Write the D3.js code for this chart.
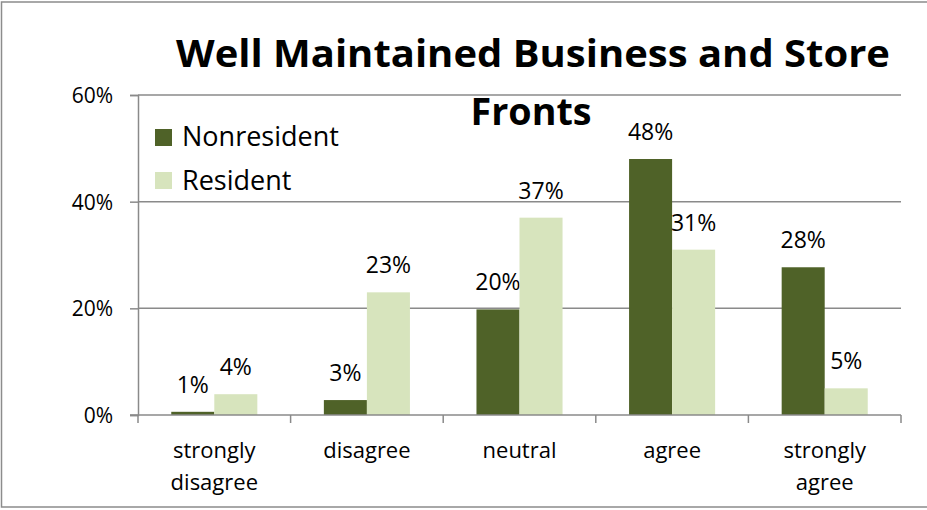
<!DOCTYPE html>
<html>
<head>
<meta charset="utf-8">
<script src="https://cdn.jsdelivr.net/npm/d3@7"></script>
<style>
  html, body { margin: 0; padding: 0; background: #fff; }
  svg { display: block; font-family: "Open Sans", "Noto Sans", sans-serif; }
</style>
</head>
<body>
<svg id="chart" width="927" height="510"></svg>
<script>
const categories = [["strongly", "disagree"], ["disagree"], ["neutral"], ["agree"], ["strongly", "agree"]];
const seriesNames = ["Nonresident", "Resident"];
const nonresident = [0.6, 2.8, 19.8, 48, 27.7];
const resident = [3.9, 23, 37, 31, 5];
const labelsNonresident = ["1%", "3%", "20%", "48%", "28%"];
const labelsResident = ["4%", "23%", "37%", "31%", "5%"];
const yTicks = [0, 20, 40, 60];
const colors = ["#4F6228", "#D7E4BD"];
const titleLines = ["Well Maintained Business and Store", "Fronts"];

const svg = d3.select("#chart");
const plotLeft = 138, plotRight = 901, plotTop = 95, plotBottom = 415;
const catKeys = categories.map(c => c.join(" "));

// outer border
svg.append("path")
  .attr("d", "M930,2 H1.5 V507 H930")
  .attr("fill", "none").attr("stroke", "#8c8c8c").attr("stroke-width", 1.5);

const y = d3.scaleLinear().domain([0, 60]).range([plotBottom, plotTop]);
const x0 = d3.scaleBand().domain(catKeys).range([plotLeft, plotRight]).paddingInner(0.436).paddingOuter(0.218);
const x1 = d3.scaleBand().domain(seriesNames).range([0, x0.bandwidth()]);

// gridlines
svg.append("g").selectAll("line").data(yTicks.filter(d => d > 0)).join("line")
  .attr("x1", plotLeft).attr("x2", plotRight)
  .attr("y1", d => y(d)).attr("y2", d => y(d))
  .attr("stroke", "#8a8a8a").attr("stroke-width", 1.5);

// bars
const series = [nonresident, resident];
const labels = [labelsNonresident, labelsResident];
series.forEach((vals, si) => {
  const g = svg.append("g");
  g.selectAll("rect").data(vals).join("rect")
    .attr("x", (d, i) => x0(catKeys[i]) + x1(seriesNames[si]))
    .attr("width", x1.bandwidth())
    .attr("y", d => y(d))
    .attr("height", d => y(0) - y(d))
    .attr("fill", colors[si]);
  g.selectAll("text").data(vals).join("text")
    .attr("x", (d, i) => x0(catKeys[i]) + x1(seriesNames[si]) + x1.bandwidth() / 2)
    .attr("y", d => y(d) - 19)
    .attr("text-anchor", "middle")
    .attr("font-size", 23)
    .attr("fill", "#000")
    .text((d, i) => labels[si][i]);
});

// y axis
const yAxis = svg.append("g").attr("transform", `translate(${plotLeft},0)`)
  .call(d3.axisLeft(y).tickValues(yTicks).tickFormat(d => d + "%").tickSize(8).tickPadding(17));
yAxis.select(".domain").attr("stroke", "#8a8a8a").attr("stroke-width", 1.5);
yAxis.selectAll(".tick line").attr("stroke", "#8a8a8a").attr("stroke-width", 1.5);
yAxis.selectAll(".tick text").attr("font-size", 21).attr("fill", "#000")
  .attr("font-family", "'Open Sans', sans-serif").attr("dy", "0.36em");

// x axis
const xAxis = svg.append("g").attr("transform", `translate(0,${plotBottom})`);
xAxis.append("line").attr("x1", plotLeft - 8).attr("x2", plotRight).attr("y1", 0).attr("y2", 0)
  .attr("stroke", "#8a8a8a").attr("stroke-width", 1.5);
const boundaries = catKeys.map(k => x0(k) - x0.step() * x0.paddingInner() / 2).concat([plotRight]);
xAxis.selectAll("line.tk").data(boundaries).join("line").attr("class", "tk")
  .attr("x1", d => d).attr("x2", d => d).attr("y1", 0).attr("y2", 8)
  .attr("stroke", "#8a8a8a").attr("stroke-width", 1.5);
const catText = xAxis.selectAll("text").data(categories).join("text")
  .attr("text-anchor", "middle")
  .attr("font-size", 22).attr("fill", "#000")
  .attr("transform", (d, i) => `translate(${x0(catKeys[i]) + x0.bandwidth() / 2},0)`);
catText.selectAll("tspan").data(d => d).join("tspan")
  .attr("x", 0).attr("y", (d, j) => 43 + j * 32).text(d => d);

// legend
const legend = svg.append("g");
seriesNames.forEach((name, i) => {
  legend.append("rect").attr("x", 155).attr("y", 129 + i * 43).attr("width", 17).attr("height", 17)
    .attr("fill", colors[i]);
  legend.append("text").attr("x", 182).attr("y", 146 + i * 44)
    .attr("font-size", 27).attr("fill", "#000").text(name);
});

// title
svg.append("text").attr("x", 533).attr("y", 67).attr("text-anchor", "middle")
  .attr("font-size", 38).attr("font-weight", "bold").attr("fill", "#000")
  .attr("textLength", 714).attr("lengthAdjust", "spacingAndGlyphs")
  .text(titleLines[0]);
svg.append("text").attr("x", 531).attr("y", 125).attr("text-anchor", "middle")
  .attr("font-size", 38).attr("font-weight", "bold").attr("fill", "#000")
  .attr("textLength", 121).attr("lengthAdjust", "spacingAndGlyphs")
  .text(titleLines[1]);
</script>
</body>
</html>
